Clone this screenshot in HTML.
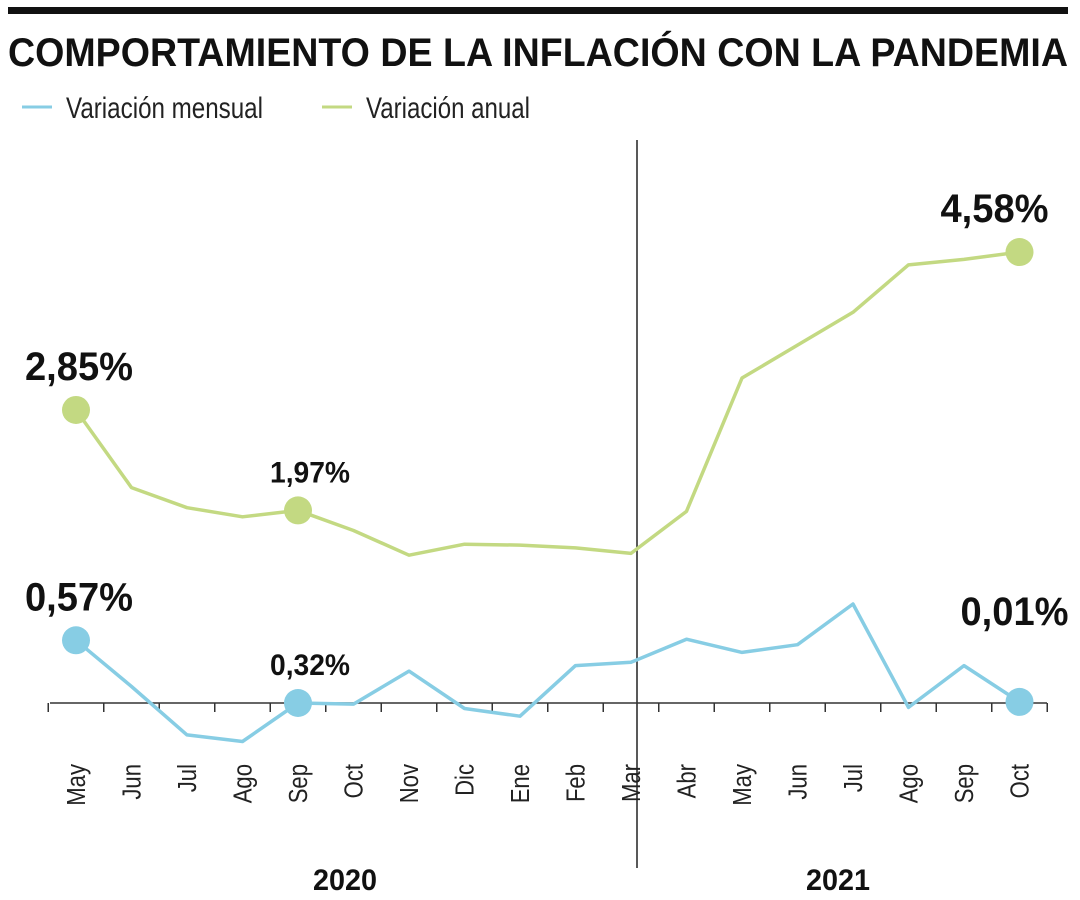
<!DOCTYPE html>
<html><head><meta charset="utf-8"><style>
html,body{margin:0;padding:0;background:#fff;}
svg{display:block;font-family:"Liberation Sans",sans-serif;}
</style></head><body>
<svg id="chart" width="1080" height="900" viewBox="0 0 1080 900" xmlns="http://www.w3.org/2000/svg">
<rect x="8" y="7" width="1060" height="7" fill="#111"/>
<text x="8" y="66" font-size="40" font-weight="bold" fill="#111" textLength="1060" lengthAdjust="spacingAndGlyphs">COMPORTAMIENTO DE LA INFLACIÓN CON LA PANDEMIA</text>
<g>
<line x1="22" y1="107" x2="52" y2="107" stroke="#87cde4" stroke-width="3"/>
<text x="66" y="118" font-size="30" fill="#222" textLength="197" lengthAdjust="spacingAndGlyphs">Variación mensual</text>
<line x1="322" y1="107" x2="352" y2="107" stroke="#c3d982" stroke-width="3"/>
<text x="366" y="118" font-size="30" fill="#222" textLength="164" lengthAdjust="spacingAndGlyphs">Variación anual</text>
</g>
<line x1="637" y1="140" x2="637" y2="868" stroke="#222" stroke-width="1.5"/>
<g id="axis"></g>
<g id="series"></g>
<text x="345" y="890" font-size="30" font-weight="bold" text-anchor="middle" fill="#111" textLength="64" lengthAdjust="spacingAndGlyphs">2020</text>
<text x="838" y="890" font-size="30" font-weight="bold" text-anchor="middle" fill="#111" textLength="64" lengthAdjust="spacingAndGlyphs">2021</text>
</svg>
<script>
const months = ["May","Jun","Jul","Ago","Sep","Oct","Nov","Dic","Ene","Feb","Mar","Abr","May","Jun","Jul","Ago","Sep","Oct"];
const anual = [2.85,2.00,1.78,1.68,1.75,1.53,1.26,1.38,1.37,1.34,1.28,1.74,3.20,3.56,3.92,4.44,4.50,4.58];
const mensual = [0.57,0.15,-0.29,-0.35,0.00,-0.01,0.29,-0.05,-0.12,0.34,0.37,0.58,0.46,0.53,0.90,-0.04,0.34,0.01];
const anualLabels = [[0,"2,85%"],[4,"1,97%"],[17,"4,58%"]];
const mensualLabels = [[0,"0,57%"],[4,"0,32%"],[17,"0,01%"]];
const NS="http://www.w3.org/2000/svg";
const x = i => 76 + i*55.5;
const yA = v => 670.2 - 91.3*v;
const yM = v => 703 - 110*v;
const axis=document.getElementById('axis'), series=document.getElementById('series');
function mk(tag, attrs, parent){const e=document.createElementNS(NS,tag);for(const k in attrs)e.setAttribute(k,attrs[k]);parent.appendChild(e);return e;}
const base = yM(0);
const ax = mk('line',{x1:50,y1:base,x2:1047,y2:base,stroke:'#333','stroke-width':1.5},axis);


for(let i=0;i<=months.length;i++){
  const tx = x(i)-27.75;
  const t = mk('line',{x1:tx,y1:base,x2:tx,y2:base+9,stroke:'#333','stroke-width':1.5},axis);
  
  
}
months.forEach((m,i)=>{
  const t = mk('text',{x:0,y:0,'font-size':26,fill:'#222','text-anchor':'end',transform:`translate(${x(i)+9},${764}) rotate(-90) scale(0.85,1)`},axis);
  t.textContent=m;
  
  
});
function line(vals,yf,color,name){
  const p = mk('polyline',{points:vals.map((v,i)=>x(i)+','+yf(v)).join(' '),fill:'none',stroke:color,'stroke-width':3.5,'stroke-linejoin':'round'},series);
  
  
}
line(anual,yA,'#c3d982','line-anual');
line(mensual,yM,'#87cde4','line-mensual');
function dots(labels,vals,yf,color,name){
  labels.forEach(([i,txt])=>{
    const c = mk('circle',{cx:x(i),cy:yf(vals[i]),r:14,fill:color},series);
    
    
    const mid = (i===4);
    const fs = mid?30:40;
    const w = mid?80:108;
    let dx = i===17?(name==='anual'?-25:-5):(i===0?3:12);
    let dy = mid?28:30;
    if(name==='mensual' && i===17) dy=77;
    const t = mk('text',{x:x(i)+dx,y:yf(vals[i])-dy,'font-size':fs,'font-weight':'bold',fill:'#111','text-anchor':'middle',textLength:w,lengthAdjust:'spacingAndGlyphs'},series);
    t.textContent=txt;
    
    
  });
}
dots(anualLabels,anual,yA,'#c3d982','anual');
dots(mensualLabels,mensual,yM,'#87cde4','mensual');
</script>
</body></html>
